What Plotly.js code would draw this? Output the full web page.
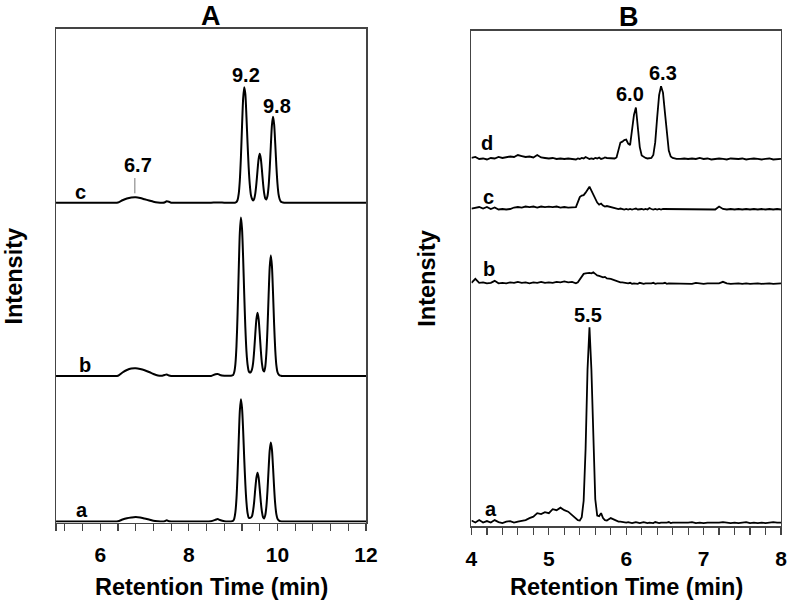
<!DOCTYPE html>
<html>
<head>
<meta charset="utf-8">
<script src="https://cdn.plot.ly/plotly-3.0.1.min.js"></script>
<style>html,body{margin:0;padding:0;background:#fff;}#chart{width:788px;height:604px;}</style>
</head>
<body>
<div id="chart"></div>
<script>
// ---------- Panel A data (retention time, min; intensity above each trace baseline) ----------
const xA = [5.0, 5.5, 6.0, 6.3, 6.4, 6.5, 6.6, 6.7, 6.8, 6.9, 7.0, 7.1, 7.2, 7.3, 7.4, 7.45, 7.5, 7.55, 7.6, 7.8, 8.0, 8.3, 8.5, 8.6, 8.65, 8.7, 8.8, 8.9, 8.95,
  9.000, 9.025, 9.050, 9.075, 9.100, 9.125, 9.150, 9.175, 9.200, 9.225, 9.250, 9.275, 9.300, 9.325, 9.350, 9.375, 9.400, 9.425, 9.450, 9.475,
  9.500, 9.525, 9.550, 9.575, 9.600, 9.625, 9.650, 9.675, 9.700, 9.725, 9.750, 9.775, 9.800, 9.825, 9.850, 9.875, 9.900, 9.925, 9.950, 9.975,
  10.000, 10.025, 10.050, 10.075, 10.100, 10.125, 10.150, 10.2, 10.5, 11.0, 11.5, 12.0];
const traceA_a = [0,0,0,0,0.05,0.4,0.65,0.8,0.9,0.8,0.6,0.4,0.15,0.05,0,0.05,0.25,0.05,0,0,0,0,0.05,0.35,0.5,0.3,0.05,0,0,
  0.16,0.6,1.9,4.7,9.8,16.4,22.4,24.8,23.0,18.5,12.7,7.6,3.9,1.7,0.8,0.7,0.8,1.1,2.2,4.1,
  6.7,8.9,9.9,8.9,6.55,3.9,1.95,0.85,0.63,1.3,3.06,6.3,10.6,14.4,16.0,14.6,11.0,6.8,3.5,1.5,
  0.6,0.25,0.1,0.05,0,0,0, 0,0,0,0,0];
const traceA_b = [0,0,0,0,0.05,0.7,1.2,1.5,1.55,1.4,1.15,0.8,0.4,0.1,0.05,0.2,0.3,0.1,0,0,0,0,0,0.35,0.4,0.2,0.05,0.05,0.05,
  0.2,0.78,2.4,6.1,12.7,21.3,29.0,32.1,29.8,23.9,16.5,9.8,5.0,2.3,1.0,0.7,0.8,1.3,2.6,5.2,
  8.6,11.5,12.8,11.5,8.5,5.1,2.5,1.2,0.9,1.9,4.7,9.6,16.2,22.0,24.4,22.3,16.8,10.4,5.3,2.2,
  0.8,0.3,0.1,0.05,0,0,0, 0,0,0,0,0];
const traceA_c = [0,0,0,0,0.05,0.5,0.85,1.05,1.1,0.95,0.7,0.45,0.2,0.05,0,0.05,0.3,0.2,0,0,0,0,0,0.05,0.05,0.05,0,0,0,
  0,0,0.05,0.15,0.57,1.8,4.5,9.2,15.5,21.1,23.4,22.0,17.4,12.0,7.2,3.7,1.6,0.8,0.45,0.8,
  1.9,3.9,6.55,8.9,9.9,8.9,6.55,3.9,1.93,0.86,0.66,1.36,3.3,6.9,11.5,15.7,17.4,15.9,12.0,7.5,
  3.9,1.7,0.7,0.25,0.1,0.03,0, 0,0,0,0,0];
const baselinesA = [0.2, 29.7, 64.8];
const namesA = ['a', 'b', 'c'];
const tickvalsA = [5, 5.2, 5.6, 6, 6.4, 6.8, 7.2, 7.6, 8, 8.4, 8.8, 9.2, 9.6, 10, 10.4, 10.8, 11.2, 11.6, 12];
const ticktextA = ['', '', '', '6', '', '', '', '', '8', '', '', '', '', '10', '', '', '', '', '12'];

// ---------- Panel B data ----------
const xB = [4.00,4.05,4.10,4.15,4.20,4.25,4.30,4.35,4.40,4.45,4.50,4.55,4.60,4.65,4.70,4.75,4.80,4.85,4.90,4.95,5.00,5.05,5.10,5.15,5.20,5.25,5.30,
  5.325,5.35,5.375,5.40,5.425,5.45,5.475,5.50,5.525,5.55,5.575,5.60,5.625,5.65,5.675,5.70,5.725,5.75,
  5.80,5.85,
  5.875,5.90,5.925,5.95,5.975,6.00,6.025,6.05,6.075,6.10,6.125,6.15,6.175,6.20,6.225,6.25,6.275,6.30,6.325,6.35,6.375,6.40,6.425,6.45,6.475,6.50,6.525,6.55,6.575,6.60,6.625,6.65,
  6.70,6.75,6.80,6.85,6.90,6.95,7.00,7.05,7.10,7.15,7.20,7.25,7.30,7.35,7.40,7.45,7.50,7.55,7.60,7.65,7.70,7.75,7.80,7.85,7.90,7.95,8.00];
const traceB_a = [0.5,0.1,0.6,0.1,0.4,0.1,0.6,0.2,0.0,0.3,0.4,0.1,0.3,0.5,0.6,1.0,1.3,2.0,1.8,2.2,2.0,2.8,2.6,3.1,2.6,2.3,1.6,
  1.3,1.0,0.6,0.5,1.2,4.5,15.0,31.0,39.5,31.0,15.0,4.8,1.5,1.4,2.0,1.0,0.6,0.5,
  1.0,0.6,
  0.4,0.3,0.3,0.2,0.2,0.1,0.2,0.1,0.0,0.1,0.2,0.1,0.0,0.1,0.2,0.1,0.0,0.1,0.1,0.0,0.2,0.1,0.0,0.1,0.1,0.0,0.1,0.2,0.0,0.1,0.1,0.0,
  0.1,0.0,0.1,0.2,0.0,0.1,0.0,0.1,0.1,0.0,0.1,0.2,0.1,0.0,0.1,0.0,0.1,0.2,0.0,0.1,0.0,0.1,0.0,0.1,0.2,0.1,0.1];
const traceB_b = [0.2,1.0,0.2,0.3,0.1,0.2,0.6,0.1,0.2,0.1,0.3,0.2,0.4,0.2,0.3,0.1,0.3,0.2,0.4,0.2,0.3,0.2,0.4,0.3,0.5,0.3,0.4,
  0.2,0.1,0.3,0.9,1.6,2.0,2.1,2.2,2.2,2.1,2.3,2.0,1.7,1.6,1.5,1.3,1.4,1.1,
  1.0,0.7,
  0.5,0.4,0.3,0.3,0.2,0.1,0.1,0.2,0.0,0.1,0.1,0.0,0.2,0.1,0.0,0.1,0.1,0.0,0.1,0.2,0.0,0.1,0.1,0.0,0.1,0.2,0.0,0.1,0.1,0.0,0.1,0.1,
  0.0,0.1,0.1,0.0,0.2,0.1,0.0,0.1,0.1,0.0,0.1,0.4,0.1,0.0,0.1,0.1,0.0,0.1,0.0,0.1,0.1,0.0,0.1,0.1,0.0,0.1,0.1];
const traceB_c = [0.2,0.3,0.5,0.2,0.5,0.1,0.4,0.0,0.1,0.0,0.1,0.4,0.5,0.4,0.6,0.5,0.6,0.4,0.6,0.5,0.6,0.5,0.6,0.4,0.5,0.4,0.5,
  0.4,0.5,1.5,2.5,2.8,2.9,3.4,4.0,4.6,3.8,3.0,2.1,1.4,1.0,1.2,0.8,0.6,0.7,
  0.5,0.3,
  0.2,0.1,0.2,0.1,0.0,0.1,0.0,0.1,0.0,0.1,0.2,0.0,0.1,0.1,0.0,0.1,0.0,0.3,0.1,0.0,0.1,0.0,0.1,0.0,0.1,0.1,0.0,0.1,0.0,0.1,0.0,0.1,
  0.1,0.0,0.1,0.0,0.1,0.0,0.1,0.0,0.1,0.0,0.6,0.1,0.0,0.1,0.0,0.1,0.0,0.1,0.0,0.1,0.0,0.1,0.0,0.1,0.0,0.1,0.0];
const traceB_d = [0.3,0.5,0.1,0.2,0.0,0.3,0.2,0.5,0.3,0.4,0.6,0.5,0.9,0.7,0.5,0.6,0.4,0.9,0.4,0.3,0.2,0.3,0.1,0.2,0.1,0.2,0.1,
  0.2,0.0,0.2,0.1,0.3,0.2,0.5,0.3,0.1,0.2,0.1,0.3,0.2,0.4,0.1,0.2,0.4,0.3,
  0.2,0.2,
  0.4,1.8,3.4,3.6,3.9,4.0,3.2,2.9,5.5,9.0,10.5,7.0,2.5,0.8,0.5,0.3,0.2,0.2,0.3,0.9,3.5,8.5,13.0,14.8,13.5,9.5,4.8,1.8,0.6,0.3,0.2,0.1,
  0.1,0.2,0.1,0.2,0.1,0.3,0.1,0.2,0.0,0.1,0.2,0.1,0.0,0.2,0.1,0.1,0.2,0.0,0.1,0.2,0.1,0.0,0.1,0.2,0.0,0.1,0.1];
const baselinesB = [0.6, 48.9, 63.9, 74.0];
const namesB = ['a', 'b', 'c', 'd'];
const tickvalsB = [4,4.2,4.4,4.6,4.8,5,5.2,5.4,5.6,5.8,6,6.2,6.4,6.6,6.8,7,7.2,7.4,7.6,7.8,8];
const ticktextB = ['4','','','','','5','','','','','6','','','','','7','','','','','8'];

// ---------- build figure ----------
const FONT = 'Liberation Sans, Arial, Helvetica, sans-serif';
const seriesA = [traceA_a, traceA_b, traceA_c];
const seriesB = [traceB_a, traceB_b, traceB_c, traceB_d];
const data = [];
seriesA.forEach((s, i) => data.push({
  x: xA, y: s.map(v => v + baselinesA[i]), type: 'scatter', mode: 'lines', name: namesA[i],
  line: {color: '#000', width: 2, shape: 'spline', smoothing: 0.7}, xaxis: 'x', yaxis: 'y', hoverinfo: 'skip'
}));
seriesB.forEach((s, i) => data.push({
  x: xB, y: s.map(v => v + baselinesB[i]), type: 'scatter', mode: 'lines', name: namesB[i],
  line: {color: '#000', width: 1.8}, xaxis: 'x2', yaxis: 'y2', hoverinfo: 'skip'
}));

const axisCommon = {
  showline: true, linecolor: '#444', linewidth: 1.5, mirror: true, showgrid: false, zeroline: false
};
const xCommon = Object.assign({}, axisCommon, {
  ticks: 'outside', ticklen: 7, tickwidth: 1.2, tickcolor: '#444', tickmode: 'array', ticklabelstandoff: 6,
  tickfont: {family: FONT, size: 21, color: '#000', weight: 700}
});
const yCommon = Object.assign({}, axisCommon, {showticklabels: false, ticks: ''});

function txt(text, x, y, xref, yref, size, extra) {
  return Object.assign({text: text, x: x, y: y, xref: xref, yref: yref, showarrow: false,
    xanchor: 'center', yanchor: 'middle', font: {family: FONT, size: size, color: '#000', weight: 700}}, extra || {});
}

const annotations = [
  txt('A', 0.2678, 0.9735, 'paper', 'paper', 27),
  txt('B', 0.798, 0.972, 'paper', 'paper', 27),
  txt('Retention Time (min)', 0.2678, 0.0285, 'paper', 'paper', 23.5),
  txt('Retention Time (min)', 0.7949, 0.0285, 'paper', 'paper', 23.5),
  txt('Intensity', 0.0184, 0.543, 'paper', 'paper', 23.5, {textangle: -90}),
  txt('Intensity', 0.5415, 0.5397, 'paper', 'paper', 23.5, {textangle: -90}),
  // panel A labels
  txt('9.2', 9.30, 90.6, 'x', 'y', 20),
  txt('9.8', 10.0, 84.4, 'x', 'y', 20),
  txt('6.7', 6.84, 72.4, 'x', 'y', 20),
  txt('c', 5.56, 66.9, 'x', 'y', 20),
  txt('b', 5.65, 31.9, 'x', 'y', 20),
  txt('a', 5.58, 2.5, 'x', 'y', 20),
  // panel B labels
  txt('6.0', 6.05, 87.2, 'x2', 'y2', 20),
  txt('6.3', 6.48, 91.5, 'x2', 'y2', 20),
  txt('5.5', 5.50, 42.6, 'x2', 'y2', 20),
  txt('d', 4.20, 77.4, 'x2', 'y2', 20),
  txt('c', 4.22, 66.5, 'x2', 'y2', 20),
  txt('b', 4.23, 51.8, 'x2', 'y2', 20),
  txt('a', 4.25, 3.4, 'x2', 'y2', 20)
];

const layout = {
  width: 788, height: 604,
  margin: {l: 0, r: 0, t: 0, b: 0},
  paper_bgcolor: '#fff', plot_bgcolor: '#fff',
  showlegend: false,
  xaxis: Object.assign({}, xCommon, {domain: [0.0711, 0.4645], range: [5, 12], anchor: 'y', tickvals: tickvalsA, ticktext: ticktextA}),
  yaxis: Object.assign({}, yCommon, {domain: [0.1349, 0.9520], range: [0, 100], anchor: 'x'}),
  xaxis2: Object.assign({}, xCommon, {domain: [0.5983, 0.9911], range: [4, 8], anchor: 'y2', tickvals: tickvalsB, ticktext: ticktextB}),
  yaxis2: Object.assign({}, yCommon, {domain: [0.1291, 0.9492], range: [0, 100], anchor: 'x2'}),
  shapes: [
    {type: 'line', xref: 'x', yref: 'y', x0: 6.78, x1: 6.78, y0: 66.7, y1: 69.8, line: {color: '#777', width: 1}}
  ],
  annotations: annotations
};

Plotly.newPlot('chart', data, layout, {staticPlot: true, displayModeBar: false});
</script>
</body>
</html>
